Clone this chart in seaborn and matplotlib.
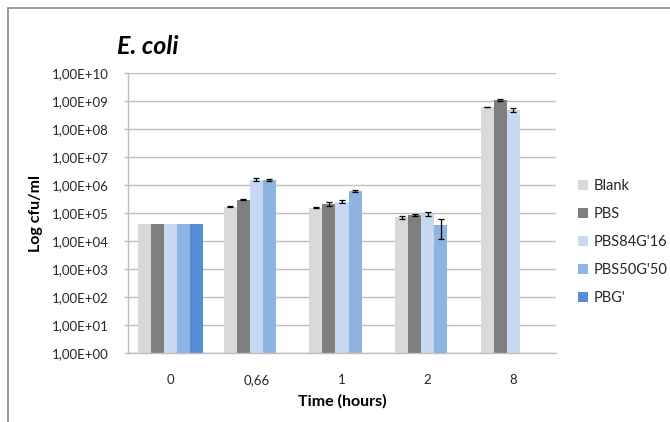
import numpy as np
import pandas as pd
import matplotlib
matplotlib.use("Agg")
import matplotlib.pyplot as plt
import seaborn as sns
from matplotlib.ticker import FixedLocator, FuncFormatter, NullLocator
from matplotlib.patches import Rectangle

# ---- data ----
times = ["0", "0,66", "1", "2", "8"]
series = ["Blank", "PBS", "PBS84G'16", "PBS50G'50", "PBG'"]
colors = ["#D9D9D9", "#7F7F7F", "#C6D9F1", "#8DB4E2", "#558ED5"]

blank = [4.3e4, 1.7e5, 1.6e5, 7.2e4, 6.3e8]
pbs = [4.3e4, 3.1e5, 2.1e5, 8.9e4, 1.1e9]
pbs84 = [4.3e4, 1.6e6, 2.6e5, 9.5e4, 5.0e8]
pbs50 = [4.3e4, 1.6e6, 6.4e5, 3.7e4, None]
pbg = [4.3e4, None, None, None, None]

blank_err = [0, 8e3, 8e3, 7e3, 2e7]
pbs_err = [0, 1.2e4, 3.5e4, 8e3, 8e7]
pbs84_err = [0, 2.2e5, 3.5e4, 1.8e4, 1.0e8]
pbs50_err = [0, 1.3e5, 4e4, 2.5e4, 0]
pbg_err = [0, 0, 0, 0, 0]

values = [blank, pbs, pbs84, pbs50, pbg]
errors = [blank_err, pbs_err, pbs84_err, pbs50_err, pbg_err]

rows = []
for s, vals, errs in zip(series, values, errors):
    for t, v, e in zip(times, vals, errs):
        if v is not None:
            rows.append({"time": t, "series": s, "cfu": v, "err": e})
df = pd.DataFrame(rows)

# ---- plot ----
sns.set_theme(style="white")
plt.rcParams["font.family"] = ["Lato", "DejaVu Sans"]

fig = plt.figure(figsize=(6.70, 4.22), dpi=100)
ax = fig.add_axes([128 / 670, 1 - 353.3 / 422, (556 - 128) / 670, (353.3 - 73.3) / 422])

sns.barplot(data=df, x="time", y="cfu", hue="series", order=times,
            hue_order=series, palette=colors, errorbar=None, width=0.76,
            saturation=1, linewidth=0, ax=ax)
ax.set_yscale("log")

# error bars using bar positions from the library
for cont, s in zip(ax.containers, series):
    sub = df[df["series"] == s].set_index("time")
    for patch in cont.patches:
        xc = patch.get_x() + patch.get_width() / 2
        t = times[int(round(xc))]
        if t in sub.index:
            e = sub.loc[t, "err"]
            h = patch.get_height()
            if e > 0:
                ax.errorbar(xc, h, yerr=e, fmt="none", ecolor="black",
                            elinewidth=0.9, capsize=2.5, capthick=0.9, zorder=5)

ax.set_xlim(-0.5, len(times) - 0.5)
ax.set_ylim(1, 1e10)

decades = [10.0 ** k for k in range(0, 11)]
ax.yaxis.set_major_locator(FixedLocator(decades))
ax.yaxis.set_minor_locator(NullLocator())
ax.yaxis.set_major_formatter(FuncFormatter(lambda v, p: "1,00E+%02d" % int(round(np.log10(v)))))
ax.grid(axis="y", color="#BFBFBF", linewidth=1)
ax.set_axisbelow(True)
for side in ["top", "right"]:
    ax.spines[side].set_visible(False)
for side in ["left", "bottom"]:
    ax.spines[side].set_color("#BFBFBF")
    ax.spines[side].set_linewidth(1)
ax.tick_params(axis="y", which="major", length=3, width=1, color="#BFBFBF",
               labelsize=9.5, labelcolor="#262626", pad=11, left=True)
ax.tick_params(axis="x", length=0, labelsize=9.5, labelcolor="#262626", pad=15)

ax.set_xlabel("Time (hours)", fontsize=11.5, fontweight="bold", color="black", labelpad=6)
ax.set_ylabel("Log cfu/ml", fontsize=11.5, fontweight="bold", color="black", labelpad=6)

fig.text(117 / 670, 1 - 54 / 422, "E. coli", fontsize=18, fontweight="bold",
         fontstyle="italic", ha="left", va="baseline", color="black")

leg = ax.legend(loc="center left", bbox_to_anchor=(572 / 670, 1 - 242 / 422),
                bbox_transform=fig.transFigure, frameon=False, fontsize=10.5,
                handlelength=0.7, handleheight=0.7, handletextpad=0.4,
                labelspacing=0.95, borderaxespad=0)
for t in leg.get_texts():
    t.set_color("#262626")

# outer chart border
fig.patches.append(Rectangle((8 / 670, -0.1), 1.2, 1 - 8 / 422 + 0.1,
                             transform=fig.transFigure, fill=False,
                             edgecolor="#8C8C8C", linewidth=1.2))

fig.savefig("out.png", dpi=100)
